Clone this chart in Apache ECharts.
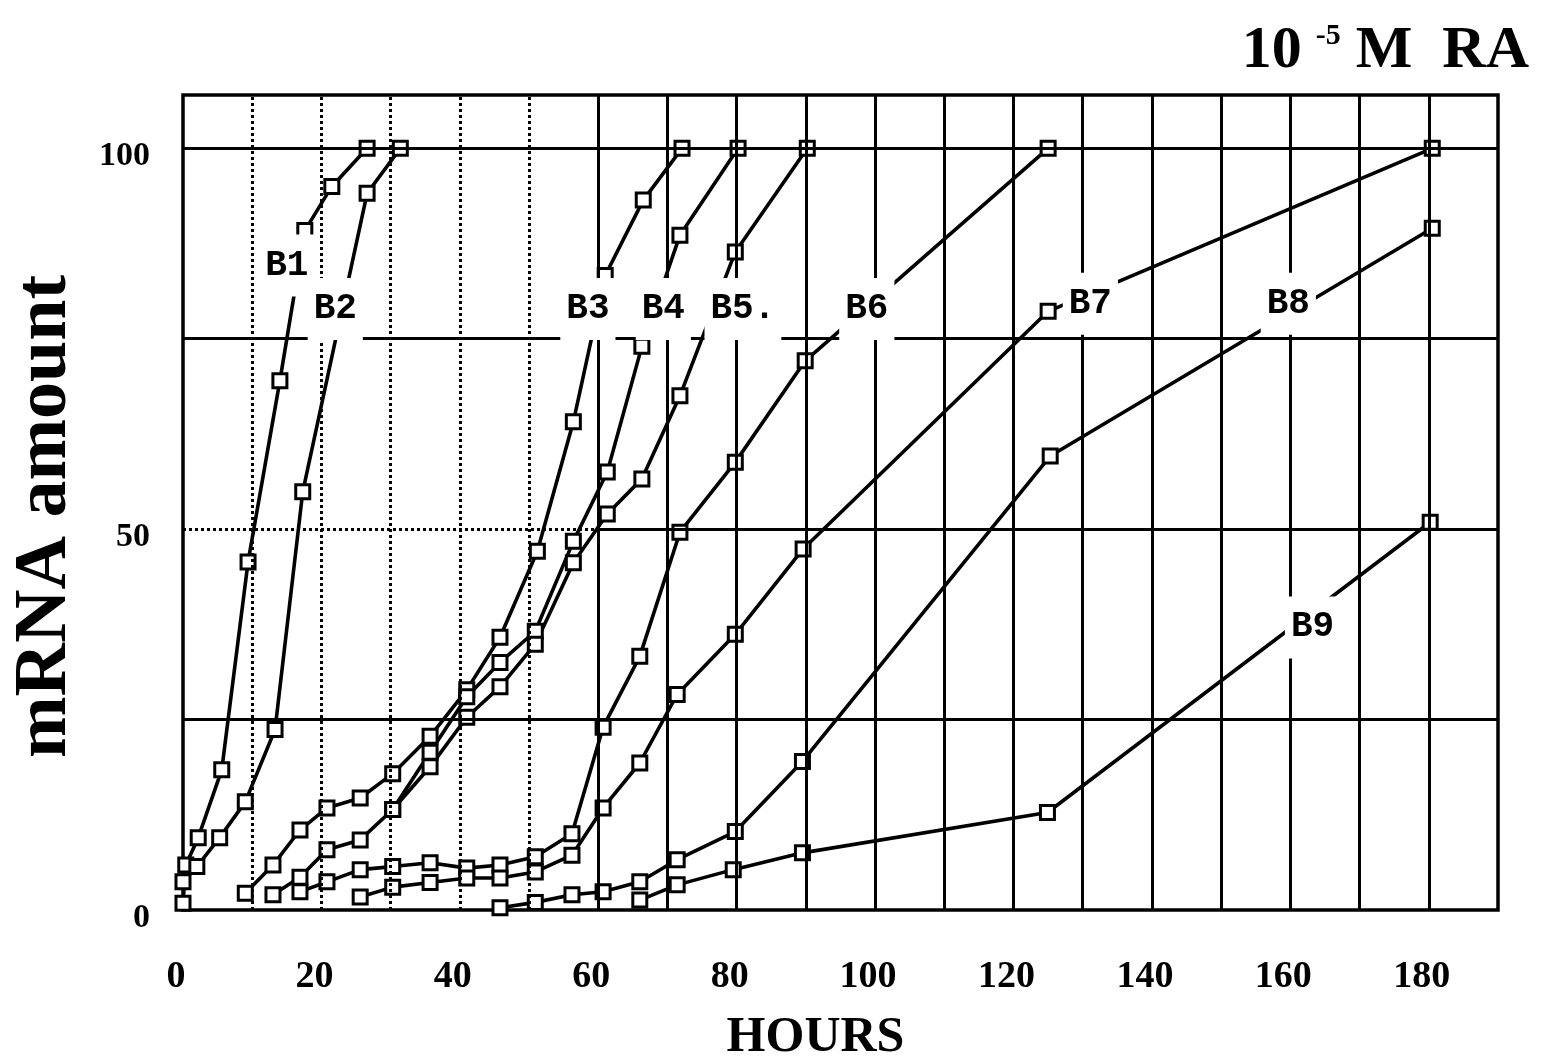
<!DOCTYPE html>
<html>
<head>
<meta charset="utf-8">
<script src="https://cdn.jsdelivr.net/npm/echarts@6/dist/echarts.min.js"></script>
<style>
html,body{margin:0;padding:0;background:#fff;}
#chart{width:1542px;height:1061px;}
</style>
</head>
<body>
<div id="chart"></div>
<script>
// ---------------- data (hours, mRNA amount) ----------------
const B1_hours  = [0, 0.4, 2.2, 5.6, 9.4, 14.0, 17.6, 21.5, 26.6];
const B1_values = [0.9, 5.9, 9.5, 18.4, 45.7, 69.5, 89.2, 95, 100];

const B2_hours  = [0, 2.0, 5.3, 9.0, 13.3, 17.3, 26.6, 31.4];
const B2_values = [3.7, 5.7, 9.5, 14.2, 23.7, 54.9, 94.1, 100];

const B3_hours  = [9.0, 13.0, 16.9, 20.8, 25.6, 30.3, 35.7, 41.0, 45.8, 51.2, 56.4, 61.0, 66.5, 72.1];
const B3_values = [2.2, 5.9, 10.5, 13.4, 14.7, 17.9, 22.8, 28.9, 35.8, 47.1, 64.1, 83.3, 93.2, 100];

const B4_hours  = [13.0, 16.9, 20.8, 25.6, 30.3, 35.7, 41.0, 45.8, 50.9, 56.4, 61.3, 66.3, 71.8, 80.2];
const B4_values = [2.0, 4.3, 7.9, 9.2, 13.2, 20.7, 28.0, 32.5, 36.6, 48.4, 57.5, 74.0, 88.6, 100];

const B5_hours  = [30.3, 35.7, 41.0, 45.8, 50.9, 56.4, 61.3, 66.3, 71.8, 79.8, 90.2];
const B5_values = [13.2, 18.8, 25.3, 29.3, 34.9, 45.6, 52.0, 56.6, 67.5, 86.4, 100];

const B6_hours  = [16.9, 20.8, 25.6, 30.3, 35.7, 41.0, 45.8, 50.9, 56.2, 60.7, 66.0, 71.8, 79.8, 89.9, 125.0];
const B6_values = [2.4, 3.7, 5.3, 5.7, 6.2, 5.5, 5.9, 7.0, 10.0, 24.0, 33.3, 49.6, 58.8, 72.1, 100];

const B7_hours  = [25.6, 30.3, 35.7, 41.0, 45.8, 50.9, 56.2, 60.7, 66.0, 71.4, 79.8, 89.6, 125.0, 180.5];
const B7_values = [1.7, 3.0, 3.6, 4.2, 4.2, 5.0, 7.2, 13.4, 19.3, 28.3, 36.2, 47.4, 78.6, 100];

const B8_hours  = [45.8, 50.9, 56.2, 60.7, 66.0, 71.4, 79.8, 89.5, 125.3, 180.5];
const B8_values = [0.3, 1.0, 2.0, 2.4, 3.7, 6.6, 10.3, 19.5, 59.6, 89.5];

const B9_hours  = [66.0, 71.4, 79.5, 89.5, 124.9, 180.2];
const B9_values = [1.3, 3.3, 5.3, 7.5, 12.8, 50.9];

// curve labels (text and where they sit, in data units)
const labelTexts  = ['B1', 'B2', 'B3', 'B4', 'B5.', 'B6', 'B7', 'B8', 'B9'];
const labelHours  = [15.0, 22.0, 58.5, 69.4, 80.9, 98.8, 131.1, 159.7, 163.2];
const labelValues = [84.6, 78.9, 78.9, 78.9, 78.9, 78.9, 79.6, 79.6, 37.1];

// tick labels
const xTickLabels = [0, 20, 40, 60, 80, 100, 120, 140, 160, 180];
const yTickLabels = [0, 50, 100];

// grid lines
const vGridSolid  = [60, 70, 80, 90, 100, 110, 120, 130, 140, 150, 160, 170, 180];
const vGridDotted = [10, 20, 30, 40, 50];
const hGridSolid  = [25, 75, 100];

// ---------------- chart ----------------
const curves = [
  ['B1', B1_hours, B1_values], ['B2', B2_hours, B2_values], ['B3', B3_hours, B3_values],
  ['B4', B4_hours, B4_values], ['B5', B5_hours, B5_values], ['B6', B6_hours, B6_values],
  ['B7', B7_hours, B7_values], ['B8', B8_hours, B8_values], ['B9', B9_hours, B9_values]
];

const serif = "'Liberation Serif', 'Times New Roman', serif";
const mono = "'Liberation Mono', 'Courier New', monospace";

const gridLineData = [];
vGridSolid.forEach(h => gridLineData.push({xAxis: h, lineStyle: {color: '#000', width: 3, type: 'solid'}}));
vGridDotted.forEach(h => gridLineData.push({xAxis: h, lineStyle: {color: '#000', width: 3, type: [3, 3]}}));
hGridSolid.forEach(v => gridLineData.push({yAxis: v, lineStyle: {color: '#000', width: 3.2, type: 'solid'}}));
gridLineData.push([{coord: [0, 50], lineStyle: {color: '#000', width: 3, type: [3, 3]}}, {coord: [60, 50]}]);
gridLineData.push([{coord: [60, 50], lineStyle: {color: '#000', width: 3.2, type: 'solid'}}, {coord: [190, 50]}]);

const series = [];
series.push({
  type: 'line', name: 'grid', data: [], z: 1, silent: true, animation: false,
  markLine: {
    silent: true, animation: false, symbol: ['none', 'none'],
    label: {show: false}, emphasis: {disabled: true},
    data: gridLineData
  }
});
curves.forEach(([name, hrs, vals]) => {
  series.push({
    type: 'line', name: name,
    data: hrs.map((h, i) => [h, vals[i]]),
    symbol: 'rect', symbolSize: 14, showAllSymbol: true,
    lineStyle: {color: '#000', width: 3.6},
    itemStyle: {color: '#fff', borderColor: '#000', borderWidth: 3, opacity: 1},
    z: 3, animation: false, silent: true
  });
});
series.push({
  type: 'scatter', name: 'labels',
  data: labelHours.map((h, i) => ({value: [h, labelValues[i]], name: labelTexts[i]})),
  symbolSize: 0, z: 10, silent: true, animation: false,
  itemStyle: {opacity: 1},
  label: {
    show: true, position: 'inside', formatter: '{b}', opacity: 1,
    fontFamily: mono, fontWeight: 'bold', fontSize: 36, color: '#000',
    backgroundColor: '#fff', padding: [12, 6, 14, 6]
  }
});

const chart = echarts.init(document.getElementById('chart'), null, {renderer: 'canvas'});
chart.setOption({
  backgroundColor: '#fff',
  animation: false,
  title: {
    text: '{a|10}{s|-5}{a| M  RA}',
    right: 8, top: 16,
    textStyle: {
      rich: {
        a: {fontFamily: serif, fontWeight: 'bold', fontSize: 60, color: '#000'},
        s: {fontFamily: serif, fontWeight: 'bold', fontSize: 30, color: '#000', verticalAlign: 'top', padding: [0, 0, 0, 14]}
      }
    }
  },
  grid: {left: 183, right: 44, top: 95, bottom: 151, outerBoundsMode: 'none', containLabel: false,
         show: true, borderColor: '#000', borderWidth: 3.5, backgroundColor: 'transparent'},
  xAxis: {
    type: 'value', min: 0, max: 190, interval: 10,
    axisLine: {show: false}, axisTick: {show: false}, splitLine: {show: false},
    axisLabel: {
      formatter: v => xTickLabels.includes(v) ? String(v) : '',
      margin: 48, fontFamily: serif, fontWeight: 'bold', fontSize: 38, color: '#000',
      padding: [0, 14, 0, 0]
    },
    name: 'HOURS', nameLocation: 'middle', nameGap: 103,
    nameTextStyle: {fontFamily: serif, fontWeight: 'bold', fontSize: 50, color: '#000', padding: [0, 50, 0, 0]}
  },
  yAxis: {
    type: 'value', min: 0, max: 107, interval: 25,
    axisLine: {show: false}, axisTick: {show: false}, splitLine: {show: false},
    axisLabel: {
      formatter: v => yTickLabels.includes(v) ? String(v) : '',
      margin: 33, fontFamily: serif, fontWeight: 'bold', fontSize: 34, color: '#000',
      verticalAlign: 'top', lineHeight: 16
    },
    name: 'mRNA amount', nameLocation: 'middle', nameRotate: 90, nameGap: 100,
    nameTextStyle: {fontFamily: serif, fontWeight: 'bold', fontSize: 74, color: '#000', padding: [0, 28, 0, 0]}
  },
  series: series
});
</script>
</body>
</html>
